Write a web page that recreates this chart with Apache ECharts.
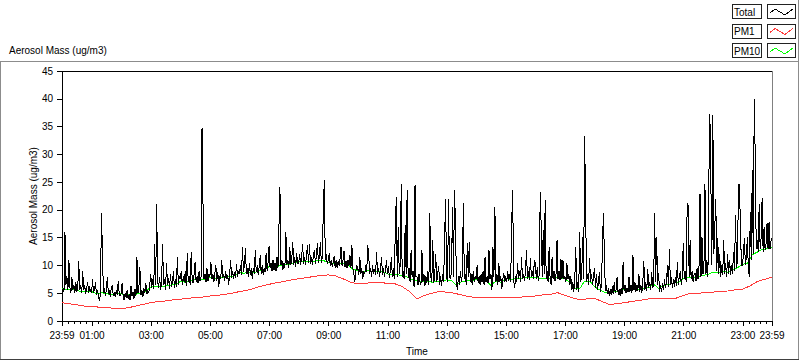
<!DOCTYPE html>
<html>
<head>
<meta charset="utf-8">
<script src="https://cdn.jsdelivr.net/npm/echarts@6/dist/echarts.min.js"></script>
<style>
html, body { margin: 0; padding: 0; background: #fff; }
#chart { width: 800px; height: 361px; }
/* LabVIEW draws its plots without smoothing */
#chart svg path, #chart svg polyline, #chart svg line, #chart svg rect { shape-rendering: crispEdges; }
</style>
</head>
<body>
<div id="chart"></div>
<script>
// time is counted in minutes from the 23:59 start of the record
// Total: one reading every 2 minutes, one row per hour
const totalStep = 2;
const totalMass = [
  7.5, 6, 5.2, 16, 6.5, 8, 5.5, 11, 6, 5, 8, 5.5, 6.5, 5, 7, 5.2, 6, 10.8, 5.5, 6.5, 5, 9, 5.5, 6.5, 4.8, 6, 7, 5, 6.2, 5.3,
  5, 7.5, 5, 5.8, 7, 4.6, 5.5, 4.5, 3.6, 5, 19.4, 12.5, 5, 6, 4.5, 5.5, 8, 4.8, 5.5, 4.4, 6, 6.5, 4.5, 5.2, 4.3, 5.5, 4.7, 7.2, 5, 4.5,
  5, 6.8, 4.5, 3.8, 5, 4.2, 5.5, 4, 4.8, 3.8, 6.3, 4.5, 5.2, 4, 5.8, 4.5, 11.5, 5, 6, 9.7, 4.6, 5.5, 4.3, 6, 5, 6.9, 4.8, 5.5, 5, 6.5,
  8.5, 6, 7.5, 5.8, 13.8, 6.5, 21, 7, 6, 8, 5.5, 7, 13.8, 6.5, 7.5, 5.6, 10.4, 6.5, 7.8, 5.8, 8.5, 6.2, 7, 9, 6, 7.5, 6.2, 11.5, 6.5, 8,
  7.5, 9, 6.5, 8, 7, 9, 6.3, 12.2, 7, 8, 6.5, 12.4, 7.5, 6.8, 8.5, 10.6, 7, 8, 6.8, 9, 7.2, 8, 34.8, 21, 7.5, 8.5, 7, 9.5, 7.2, 8.5,
  8, 10.6, 7.5, 8.5, 7, 8.5, 10, 7.2, 8.8, 6.2, 8, 7.5, 10.9, 7.8, 8.5, 7.2, 9, 7.5, 8.3, 6.5, 8.5, 10.9, 7.8, 9, 7.5, 8.8, 7.8, 10.2, 8, 9,
  8.5, 10, 8.2, 13.4, 8.8, 10, 13.1, 8.5, 9.5, 8, 10.5, 8.3, 9.5, 7.6, 9.5, 8.5, 12.7, 8.8, 10, 8.2, 9.8, 11.8, 8.5, 10, 8.3, 9.5, 8.8, 12.2, 9, 10.5,
  13.5, 9.5, 10.5, 9, 11, 9.2, 10.5, 9, 11.5, 9.5, 17, 24.2, 10, 11, 9.2, 10.5, 9.5, 16.1, 10, 11, 9.5, 13.3, 10, 11, 14.2, 10, 11.5, 9.8, 12.2, 10.2,
  10.5, 12, 10, 11.5, 13.9, 10.2, 11.5, 10, 12, 13.6, 10.5, 13.8, 10.2, 11.5, 10, 12, 12.7, 10.3, 11.8, 14.1, 10.5, 11.5, 14.2, 10.5, 11.5, 19.9, 25.4, 11, 12, 10.2,
  11, 12.2, 10, 11, 9.8, 10.5, 11.6, 9.6, 11, 9.5, 10.8, 10, 11.2, 13.4, 10, 11, 12.6, 9.8, 10.8, 9.5, 11, 10, 11.8, 9.6, 13.6, 9.5, 8.5, 7, 9, 10,
  9.5, 8.2, 11.6, 8.5, 9.5, 7.5, 9, 8.4, 10, 8.8, 13.7, 12, 8.5, 9.5, 8, 10, 8.5, 9.3, 8.2, 12.4, 8.5, 9.5, 8, 9.2, 11.6, 8.3, 9.5, 8, 9, 11,
  8.5, 9.8, 7.8, 9, 11.6, 8, 9.5, 7.5, 16.3, 22.4, 8, 16.9, 8.5, 10, 24.7, 8, 9, 7.5, 17.2, 8.5, 23.6, 7.8, 9.5, 7, 12.7, 8, 9, 6.2, 24.4, 8,
  8, 6.5, 8.5, 7, 6.5, 12.7, 7, 8.5, 6.3, 8, 6.8, 9, 6.5, 19.5, 8, 7, 14.5, 6.8, 8.5, 12, 7, 8.5, 9.9, 6.5, 8, 6.3, 8.5, 7, 14.9, 21.9,
  8, 7, 22, 8, 7.5, 9, 20.5, 8, 23.5, 17.5, 7, 5.6, 8, 6.5, 9, 7, 8.5, 21.3, 7.5, 8.5, 6.5, 14, 8, 14.2, 7, 8.5, 6.5, 9, 7, 8,
  7.5, 10, 6.8, 8, 6.5, 8.5, 7, 9, 6.5, 11.5, 7, 8, 6.8, 12.7, 7.5, 8.5, 5.6, 13.4, 8, 20.6, 7, 8.5, 6.5, 10.4, 7, 8, 5.8, 7.5, 8.7, 7,
  8, 7, 9, 7.2, 8.5, 7, 17.4, 23.5, 7.5, 5.9, 8, 7, 10.4, 7.5, 9, 7, 11.6, 7.5, 8.5, 7.2, 9, 12.7, 7.5, 9, 7.3, 11.3, 8, 9, 7.5, 11,
  10.4, 7.5, 9.8, 7.2, 8.5, 23.3, 16.6, 8, 16.3, 8.5, 21.7, 7.5, 9, 7, 13.3, 7.5, 6.5, 11.6, 7.5, 9, 7.2, 8.5, 14.5, 7.5, 9, 7.3, 11.1, 7.5, 11, 7.5,
  8, 7, 10.4, 7.5, 8.5, 6.5, 8, 5.5, 7, 5.2, 7.5, 13.4, 5.5, 7, 5.3, 16, 7, 8, 15.1, 7.5, 33.3, 20.4, 7, 8.5, 6.5, 11.3, 7, 8.5, 6.5, 8,
  9.5, 6, 8.5, 5.5, 7, 8.8, 5.2, 6.5, 13, 19.4, 12.2, 5.5, 6.5, 4.8, 6, 4.5, 5.8, 4.6, 6.2, 4.8, 7, 5, 5.8, 8, 4.7, 5.8, 4.5, 6, 4.8, 10.6,
  5.5, 6.5, 5, 6, 5.2, 7.9, 5.3, 6.5, 5, 11.8, 5.5, 7, 5.2, 6.5, 5.5, 8.5, 5.3, 6.5, 5, 7, 10.8, 5.5, 7, 5.4, 9.3, 6, 7, 5.5, 8.8, 6,
  6.5, 19.5, 7, 15.1, 6.5, 8.7, 5.3, 6.5, 5.2, 6.8, 5.5, 7.5, 6, 7, 10, 6.2, 12.9, 6.5, 7.9, 6, 7.5, 6.2, 8, 6.3, 10.6, 6.5, 8, 8.9, 6.5, 8,
  14, 7.5, 9, 7, 21.2, 20.8, 8, 14.5, 7.5, 9, 7, 8.5, 8.6, 7.2, 9.5, 7.5, 10, 22.8, 8, 15.1, 8.5, 10, 24.7, 8.5, 11, 8, 25.9, 37.3, 25, 10,
  37, 12, 17, 22, 9, 15, 8.5, 12, 8, 10, 8.2, 14.5, 8.5, 10.5, 8, 12, 8.5, 11, 8.2, 10, 8.5, 12.5, 9, 19, 9.5, 11, 24.5, 24.5, 16.9, 10,
  10, 12, 15, 10, 11.5, 15.1, 9.5, 7.9, 19.6, 11, 27.2, 12, 40, 29.5, 13, 14.5, 12.5, 21, 13, 15, 22.2, 12.5, 16.9, 12.8, 14, 17.7, 13, 17.8, 13, 14.5,
  15
];

// PM10: one reading every 10 minutes
const pm10Step = 10;
const pm10Mass = [
  5.9, 5.6, 5.8, 5.5, 5.3, 5.3,
  5.3, 4.9, 5.1, 4.9, 4.8, 4.9,
  4.9, 4.6, 4.8, 4.8, 5.1, 5.3,
  6.1, 6.3, 6.2, 6.3, 6.4, 6.6,
  7.1, 7.0, 7.3, 7.4, 7.5, 7.5,
  7.8, 7.6, 7.7, 7.9, 8.0, 8.1,
  8.7, 8.6, 8.8, 8.7, 9.0, 9.2,
  9.8, 9.7, 9.9, 10.1, 10.2, 10.4,
  10.7, 10.6, 10.8, 10.7, 10.9, 10.9,
  10.5, 10.3, 10.5, 10.3, 10.2, 9.3,
  9.1, 8.9, 9.1, 8.9, 9.0, 8.9,
  8.5, 8.3, 8.4, 8.1, 7.9, 7.5,
  7.2, 7.0, 7.2, 7.0, 7.1, 7.2,
  7.4, 7.3, 6.4, 7.1, 7.2, 7.3,
  7.4, 7.2, 7.2, 6.4, 7.2, 7.0,
  7.6, 7.5, 7.6, 7.7, 7.8, 7.8,
  7.8, 7.7, 7.6, 7.7, 7.8, 7.8,
  7.6, 6.9, 5.9, 5.8, 7.2, 7.2,
  6.2, 5.6, 5.2, 5.2, 5.3, 5.2,
  5.7, 5.6, 5.7, 5.7, 5.8, 6.0,
  6.6, 5.9, 6.4, 6.6, 6.8, 6.9,
  7.6, 7.9, 7.7, 8.0, 8.2, 8.4,
  8.8, 8.7, 8.9, 8.8, 9.2, 9.6,
  10.2, 10.4, 11.9, 12.4, 12.9, 13.0,
  13.2
];

// PM1: one reading every 15 minutes
const pm1Step = 15;
const pm1Mass = [
  3.3, 3.1, 2.9, 2.7, 2.6, 2.5, 2.4, 2.3,
  2.2, 2.4, 2.7, 3.0, 3.3, 3.5, 3.6, 3.8,
  3.9, 4.1, 4.2, 4.3, 4.5, 4.6, 4.8, 5.0,
  5.3, 5.5, 5.9, 6.3, 6.6, 6.9, 7.1, 7.4,
  7.6, 7.8, 8.0, 8.2, 8.3, 8.1, 7.6, 7.0,
  6.7, 6.8, 6.9, 6.9, 6.8, 6.7, 6.2, 5.3,
  4.0, 4.6, 5.0, 5.3, 5.2, 5.0, 4.7, 4.4,
  4.2, 4.2, 4.2, 4.2, 4.2, 4.3, 4.3, 4.4,
  4.5, 4.7, 4.8, 5.1, 4.6, 4.2, 3.8, 4.0,
  4.1, 3.5, 3.0, 3.1, 3.3, 3.5, 3.7, 3.9,
  4.1, 4.1, 4.1, 4.1, 4.6, 5.0, 5.0, 5.1,
  5.2, 5.3, 5.4, 5.6, 5.7, 6.3, 7.1, 7.5,
  7.9
];

// labelled ticks: 23:59, 01:00, 03:00 ... 23:00, 23:59
const majorTicks = [0, 61, 181, 301, 421, 541, 661, 781, 901, 1021, 1141, 1261, 1381, 1440];
const seriesNames = ['Total', 'PM1', 'PM10'];
const seriesColors = ['#000000', '#ff3b3b', '#00ff00'];

const minorTicks = [];
for (let m = 13; m < 1440; m += 12) {
  if (majorTicks.indexOf(m) < 0) minorTicks.push(m);
}

function pad(n) { return (n < 10 ? '0' : '') + n; }
function clock(v) {
  const m = (v - 1 + 1440) % 1440;
  return pad(Math.floor(m / 60)) + ':' + pad(m % 60);
}
function pairs(values, step) {
  return values.map(function (v, i) { return [i * step, v]; });
}

const font = 'Liberation Sans, Arial, sans-serif';

// legend in the LabVIEW style: name box + line sample box
const legendItems = [];
seriesNames.forEach(function (name, i) {
  const top = 4 + i * 19.5;
  legendItems.push(
    { type: 'rect', shape: { x: 732.5, y: top + 0.5, width: 29, height: 14 },
      style: { fill: '#fff', stroke: '#222', lineWidth: 1 } },
    { type: 'text', x: 734, y: top + 8, style: { text: name, font: '10px ' + font, fill: '#000', textVerticalAlign: 'middle' } },
    { type: 'rect', shape: { x: 767.5, y: top + 0.5, width: 28, height: 14 },
      style: { fill: '#fff', stroke: '#222', lineWidth: 1 } },
    { type: 'polyline', shape: { points: [[770, top + 9], [775, top + 5], [780, top + 8], [785, top + 11], [790, top + 7], [793, top + 5]] },
      style: { stroke: seriesColors[i], lineWidth: 1, fill: null } }
  );
});

const chart = echarts.init(document.getElementById('chart'), null, { renderer: 'svg' });
const option = {
  animation: false,
  backgroundColor: '#fff',
  title: {
    text: 'Aerosol Mass (ug/m3)',
    left: 4, top: 40,
    textStyle: { fontFamily: font, fontSize: 10, fontWeight: 'normal', color: '#000' }
  },
  grid: { left: 62, right: 28, top: 71, bottom: 40, show: true, borderColor: '#808080', borderWidth: 1, backgroundColor: '#fff' },
  graphic: [
    { type: 'line', shape: { x1: 0, y1: 61.5, x2: 799, y2: 61.5 }, style: { stroke: '#8c8c8c', lineWidth: 1 } },
    { type: 'line', shape: { x1: 0.5, y1: 61, x2: 0.5, y2: 360 }, style: { stroke: '#8c8c8c', lineWidth: 1 } },
    { type: 'line', shape: { x1: 798.5, y1: 0, x2: 798.5, y2: 360 }, style: { stroke: '#8c8c8c', lineWidth: 1 } },
    { type: 'line', shape: { x1: 0, y1: 359.5, x2: 799, y2: 359.5 }, style: { stroke: '#404040', lineWidth: 1 } }
  ].concat(legendItems),
  xAxis: [
    {
      type: 'value', min: 0, max: 1440, position: 'bottom',
      axisLine: { show: true, onZero: false, lineStyle: { color: '#000' } },
      axisTick: { show: true, customValues: majorTicks, length: 5, lineStyle: { color: '#000' } },
      axisLabel: { show: true, customValues: majorTicks, formatter: clock, hideOverlap: false,
        fontFamily: font, fontSize: 10, color: '#000', margin: 9 },
      splitLine: { show: false },
      name: 'Time', nameLocation: 'middle', nameGap: 25, nameMoveOverlap: false,
      nameTextStyle: { fontFamily: font, fontSize: 10, color: '#000' }
    },
    {
      type: 'value', min: 0, max: 1440, position: 'bottom',
      axisLine: { show: false, onZero: false },
      axisTick: { show: true, customValues: minorTicks, length: 3, lineStyle: { color: '#000' } },
      axisLabel: { show: false },
      splitLine: { show: false }
    },
    {
      type: 'value', min: 0, max: 1440, position: 'top',
      axisLine: { show: true, onZero: false, lineStyle: { color: '#000' } },
      axisTick: { show: false }, axisLabel: { show: false }, splitLine: { show: false }
    }
  ],
  yAxis: [
    {
      type: 'value', min: 0, max: 45, interval: 5, position: 'left',
      axisLine: { show: true, lineStyle: { color: '#000' } },
      axisTick: { show: true, length: 5, lineStyle: { color: '#000' } },
      axisLabel: { fontFamily: font, fontSize: 10, color: '#000', margin: 9 },
      splitLine: { show: false },
      name: 'Aerosol Mass (ug/m3)', nameLocation: 'middle', nameGap: 24, nameMoveOverlap: false,
      nameTextStyle: { fontFamily: font, fontSize: 10, color: '#000' }
    }
  ],
  series: [
    {
      name: 'PM1', type: 'line', showSymbol: false, symbol: 'none',
      lineStyle: { color: seriesColors[1], width: 1 },
      data: pairs(pm1Mass, pm1Step)
    },
    {
      name: 'PM10', type: 'line', showSymbol: false, symbol: 'none',
      lineStyle: { color: seriesColors[2], width: 1 },
      data: pairs(pm10Mass, pm10Step)
    },
    {
      name: 'Total', type: 'line', showSymbol: false, symbol: 'none', sampling: null,
      lineStyle: { color: seriesColors[0], width: 1 },
      data: pairs(totalMass, totalStep)
    }
  ]
};
chart.setOption(option);
</script>
</body>
</html>
